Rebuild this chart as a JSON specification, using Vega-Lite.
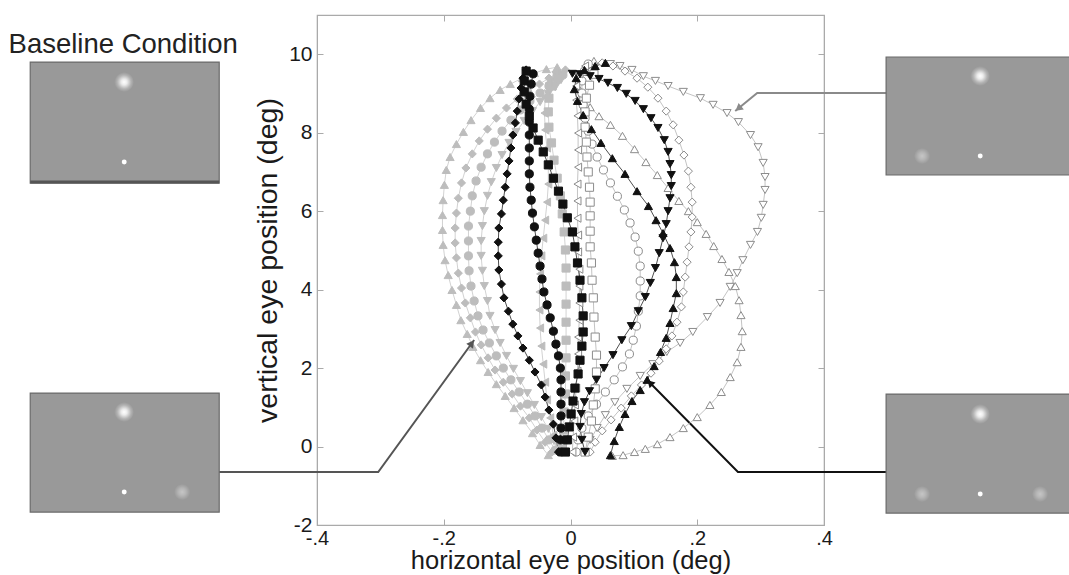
{
"$schema":"https://vega.github.io/schema/vega-lite/v6.json",
"width":507,"height":510,
"autosize":{"type":"none"},
"padding":{"left":317,"top":15,"right":245,"bottom":50},
"background":"white",
"config":{"font":"Liberation Sans","view":{"stroke":"#aaaaaa","strokeWidth":1.2}},
"resolve":{"axis":{"x":"independent","y":"independent"}},
"datasets":{
"conn":[{"g":"c1","x":0.52,"y":9.011},{"g":"c1","x":0.2946,"y":9.011},{"g":"c1","x":0.2599,"y":8.552},
{"g":"c2","x":0.52,"y":-0.65},{"g":"c2","x":0.2642,"y":-0.65},{"g":"c2","x":0.121,"y":1.695},
{"g":"c3","x":-0.5559,"y":-0.65},{"g":"c3","x":-0.3034,"y":-0.65},{"g":"c3","x":-0.152,"y":2.715}],
"insets":[{"x0":-0.8525,"x1":-0.5543,"y0":9.80,"y1":6.717},{"x0":-0.8525,"x1":-0.5543,"y0":1.364,"y1":-1.670},{"x0":0.498,"x1":0.80,"y0":9.929,"y1":6.921},{"x0":0.498,"x1":0.80,"y0":1.338,"y1":-1.695}],
"stim":[{"k":"target","x":-0.7042,"y":9.291},{"k":"fixation","x":-0.7042,"y":7.252},
{"k":"target","x":-0.7042,"y":0.879},{"k":"fixation","x":-0.7042,"y":-1.160},{"k":"distractor","x":-0.6127,"y":-1.160},
{"k":"target","x":0.6465,"y":9.444},{"k":"fixation","x":0.6465,"y":7.405},{"k":"distractor","x":0.5548,"y":7.405},
{"k":"target","x":0.6465,"y":0.828},{"k":"fixation","x":0.6465,"y":-1.211},{"k":"distractor","x":0.5548,"y":-1.211},{"k":"distractor","x":0.741,"y":-1.211}],
"traj":[
{"c":"G","s":"tu","x":-0.035,"y":-0.22},{"c":"G","s":"tu","x":-0.048,"y":0.04},{"c":"G","s":"tu","x":-0.060,"y":0.34},{"c":"G","s":"tu","x":-0.075,"y":0.67},{"c":"G","s":"tu","x":-0.089,"y":0.98},{"c":"G","s":"tu","x":-0.103,"y":1.29},{"c":"G","s":"tu","x":-0.117,"y":1.59},{"c":"G","s":"tu","x":-0.130,"y":1.90},{"c":"G","s":"tu","x":-0.142,"y":2.20},{"c":"G","s":"tu","x":-0.154,"y":2.54},{"c":"G","s":"tu","x":-0.163,"y":2.87},{"c":"G","s":"tu","x":-0.173,"y":3.22},{"c":"G","s":"tu","x":-0.180,"y":3.61},{"c":"G","s":"tu","x":-0.187,"y":3.99},{"c":"G","s":"tu","x":-0.193,"y":4.37},{"c":"G","s":"tu","x":-0.198,"y":4.75},{"c":"G","s":"tu","x":-0.201,"y":5.14},{"c":"G","s":"tu","x":-0.202,"y":5.52},{"c":"G","s":"tu","x":-0.202,"y":5.90},{"c":"G","s":"tu","x":-0.201,"y":6.28},{"c":"G","s":"tu","x":-0.199,"y":6.67},{"c":"G","s":"tu","x":-0.196,"y":7.05},{"c":"G","s":"tu","x":-0.190,"y":7.38},{"c":"G","s":"tu","x":-0.180,"y":7.71},{"c":"G","s":"tu","x":-0.169,"y":8.02},{"c":"G","s":"tu","x":-0.157,"y":8.32},{"c":"G","s":"tu","x":-0.142,"y":8.63},{"c":"G","s":"tu","x":-0.127,"y":8.88},{"c":"G","s":"tu","x":-0.111,"y":9.09},{"c":"G","s":"tu","x":-0.095,"y":9.24},{"c":"G","s":"tu","x":-0.076,"y":9.39},{"c":"G","s":"tu","x":-0.057,"y":9.52},{"c":"G","s":"tu","x":-0.038,"y":9.62},{"c":"G","s":"tu","x":-0.021,"y":9.67},
{"c":"G","s":"di","x":-0.029,"y":-0.14},{"c":"G","s":"di","x":-0.040,"y":0.11},{"c":"G","s":"di","x":-0.053,"y":0.42},{"c":"G","s":"di","x":-0.065,"y":0.73},{"c":"G","s":"di","x":-0.079,"y":1.03},{"c":"G","s":"di","x":-0.092,"y":1.34},{"c":"G","s":"di","x":-0.106,"y":1.64},{"c":"G","s":"di","x":-0.119,"y":1.95},{"c":"G","s":"di","x":-0.130,"y":2.26},{"c":"G","s":"di","x":-0.141,"y":2.59},{"c":"G","s":"di","x":-0.150,"y":2.92},{"c":"G","s":"di","x":-0.158,"y":3.28},{"c":"G","s":"di","x":-0.166,"y":3.66},{"c":"G","s":"di","x":-0.172,"y":4.04},{"c":"G","s":"di","x":-0.177,"y":4.42},{"c":"G","s":"di","x":-0.180,"y":4.81},{"c":"G","s":"di","x":-0.182,"y":5.19},{"c":"G","s":"di","x":-0.182,"y":5.57},{"c":"G","s":"di","x":-0.180,"y":5.95},{"c":"G","s":"di","x":-0.177,"y":6.33},{"c":"G","s":"di","x":-0.172,"y":6.72},{"c":"G","s":"di","x":-0.165,"y":7.10},{"c":"G","s":"di","x":-0.155,"y":7.46},{"c":"G","s":"di","x":-0.144,"y":7.79},{"c":"G","s":"di","x":-0.131,"y":8.09},{"c":"G","s":"di","x":-0.117,"y":8.37},{"c":"G","s":"di","x":-0.101,"y":8.63},{"c":"G","s":"di","x":-0.084,"y":8.86},{"c":"G","s":"di","x":-0.067,"y":9.06},{"c":"G","s":"di","x":-0.049,"y":9.24},{"c":"G","s":"di","x":-0.034,"y":9.39},{"c":"G","s":"di","x":-0.019,"y":9.52},{"c":"G","s":"di","x":-0.008,"y":9.60},
{"c":"G","s":"ci","x":-0.024,"y":-0.09},{"c":"G","s":"ci","x":-0.034,"y":0.17},{"c":"G","s":"ci","x":-0.045,"y":0.47},{"c":"G","s":"ci","x":-0.056,"y":0.78},{"c":"G","s":"ci","x":-0.068,"y":1.08},{"c":"G","s":"ci","x":-0.081,"y":1.39},{"c":"G","s":"ci","x":-0.094,"y":1.70},{"c":"G","s":"ci","x":-0.106,"y":2.00},{"c":"G","s":"ci","x":-0.117,"y":2.31},{"c":"G","s":"ci","x":-0.128,"y":2.64},{"c":"G","s":"ci","x":-0.138,"y":2.97},{"c":"G","s":"ci","x":-0.146,"y":3.33},{"c":"G","s":"ci","x":-0.152,"y":3.71},{"c":"G","s":"ci","x":-0.157,"y":4.09},{"c":"G","s":"ci","x":-0.160,"y":4.48},{"c":"G","s":"ci","x":-0.161,"y":4.86},{"c":"G","s":"ci","x":-0.161,"y":5.24},{"c":"G","s":"ci","x":-0.161,"y":5.62},{"c":"G","s":"ci","x":-0.158,"y":6.00},{"c":"G","s":"ci","x":-0.155,"y":6.39},{"c":"G","s":"ci","x":-0.149,"y":6.77},{"c":"G","s":"ci","x":-0.141,"y":7.12},{"c":"G","s":"ci","x":-0.131,"y":7.46},{"c":"G","s":"ci","x":-0.120,"y":7.76},{"c":"G","s":"ci","x":-0.108,"y":8.04},{"c":"G","s":"ci","x":-0.094,"y":8.32},{"c":"G","s":"ci","x":-0.079,"y":8.58},{"c":"G","s":"ci","x":-0.064,"y":8.81},{"c":"G","s":"ci","x":-0.048,"y":9.01},{"c":"G","s":"ci","x":-0.034,"y":9.19},{"c":"G","s":"ci","x":-0.021,"y":9.34},{"c":"G","s":"ci","x":-0.012,"y":9.47},
{"c":"G","s":"td","x":-0.016,"y":-0.14},{"c":"G","s":"td","x":-0.026,"y":0.14},{"c":"G","s":"td","x":-0.035,"y":0.45},{"c":"G","s":"td","x":-0.046,"y":0.75},{"c":"G","s":"td","x":-0.057,"y":1.06},{"c":"G","s":"td","x":-0.068,"y":1.36},{"c":"G","s":"td","x":-0.079,"y":1.67},{"c":"G","s":"td","x":-0.090,"y":1.98},{"c":"G","s":"td","x":-0.101,"y":2.31},{"c":"G","s":"td","x":-0.111,"y":2.64},{"c":"G","s":"td","x":-0.119,"y":2.97},{"c":"G","s":"td","x":-0.127,"y":3.33},{"c":"G","s":"td","x":-0.131,"y":3.71},{"c":"G","s":"td","x":-0.136,"y":4.09},{"c":"G","s":"td","x":-0.139,"y":4.48},{"c":"G","s":"td","x":-0.141,"y":4.86},{"c":"G","s":"td","x":-0.141,"y":5.24},{"c":"G","s":"td","x":-0.139,"y":5.62},{"c":"G","s":"td","x":-0.136,"y":6.00},{"c":"G","s":"td","x":-0.131,"y":6.39},{"c":"G","s":"td","x":-0.125,"y":6.74},{"c":"G","s":"td","x":-0.117,"y":7.10},{"c":"G","s":"td","x":-0.108,"y":7.43},{"c":"G","s":"td","x":-0.097,"y":7.74},{"c":"G","s":"td","x":-0.086,"y":8.02},{"c":"G","s":"td","x":-0.073,"y":8.30},{"c":"G","s":"td","x":-0.060,"y":8.55},{"c":"G","s":"td","x":-0.048,"y":8.78},{"c":"G","s":"td","x":-0.035,"y":8.99},{"c":"G","s":"td","x":-0.024,"y":9.16},{"c":"G","s":"td","x":-0.015,"y":9.34},
{"c":"G","s":"sq","x":-0.013,"y":-0.04},{"c":"G","s":"sq","x":-0.011,"y":0.42},{"c":"G","s":"sq","x":-0.010,"y":0.88},{"c":"G","s":"sq","x":-0.008,"y":1.34},{"c":"G","s":"sq","x":-0.008,"y":1.80},{"c":"G","s":"sq","x":-0.007,"y":2.26},{"c":"G","s":"sq","x":-0.007,"y":2.71},{"c":"G","s":"sq","x":-0.007,"y":3.17},{"c":"G","s":"sq","x":-0.007,"y":3.63},{"c":"G","s":"sq","x":-0.007,"y":4.09},{"c":"G","s":"sq","x":-0.007,"y":4.55},{"c":"G","s":"sq","x":-0.008,"y":5.01},{"c":"G","s":"sq","x":-0.010,"y":5.47},{"c":"G","s":"sq","x":-0.013,"y":5.93},{"c":"G","s":"sq","x":-0.016,"y":6.39},{"c":"G","s":"sq","x":-0.021,"y":6.84},{"c":"G","s":"sq","x":-0.026,"y":7.30},{"c":"G","s":"sq","x":-0.030,"y":7.74},{"c":"G","s":"sq","x":-0.034,"y":8.14},{"c":"G","s":"sq","x":-0.035,"y":8.53},{"c":"G","s":"sq","x":-0.034,"y":8.88},{"c":"G","s":"sq","x":-0.029,"y":9.19},{"c":"G","s":"sq","x":-0.021,"y":9.44},
{"c":"G","s":"tl","x":-0.021,"y":-0.14},{"c":"G","s":"tl","x":-0.027,"y":0.29},{"c":"G","s":"tl","x":-0.032,"y":0.73},{"c":"G","s":"tl","x":-0.037,"y":1.19},{"c":"G","s":"tl","x":-0.040,"y":1.64},{"c":"G","s":"tl","x":-0.043,"y":2.10},{"c":"G","s":"tl","x":-0.046,"y":2.56},{"c":"G","s":"tl","x":-0.048,"y":3.02},{"c":"G","s":"tl","x":-0.049,"y":3.48},{"c":"G","s":"tl","x":-0.049,"y":3.94},{"c":"G","s":"tl","x":-0.048,"y":4.40},{"c":"G","s":"tl","x":-0.046,"y":4.86},{"c":"G","s":"tl","x":-0.043,"y":5.31},{"c":"G","s":"tl","x":-0.040,"y":5.77},{"c":"G","s":"tl","x":-0.037,"y":6.23},{"c":"G","s":"tl","x":-0.035,"y":6.69},{"c":"G","s":"tl","x":-0.035,"y":7.15},{"c":"G","s":"tl","x":-0.037,"y":7.61},{"c":"G","s":"tl","x":-0.040,"y":8.07},{"c":"G","s":"tl","x":-0.041,"y":8.50},{"c":"G","s":"tl","x":-0.040,"y":8.91},{"c":"G","s":"tl","x":-0.034,"y":9.27},{"c":"G","s":"tl","x":-0.024,"y":9.55},
{"c":"O","s":"td","x":0.023,"y":-0.14},{"c":"O","s":"td","x":0.031,"y":0.17},{"c":"O","s":"td","x":0.042,"y":0.47},{"c":"O","s":"td","x":0.055,"y":0.80},{"c":"O","s":"td","x":0.070,"y":1.13},{"c":"O","s":"td","x":0.089,"y":1.47},{"c":"O","s":"td","x":0.110,"y":1.80},{"c":"O","s":"td","x":0.130,"y":2.10},{"c":"O","s":"td","x":0.152,"y":2.41},{"c":"O","s":"td","x":0.173,"y":2.64},{"c":"O","s":"td","x":0.193,"y":2.92},{"c":"O","s":"td","x":0.216,"y":3.30},{"c":"O","s":"td","x":0.236,"y":3.66},{"c":"O","s":"td","x":0.252,"y":4.07},{"c":"O","s":"td","x":0.263,"y":4.42},{"c":"O","s":"td","x":0.272,"y":4.75},{"c":"O","s":"td","x":0.284,"y":5.14},{"c":"O","s":"td","x":0.295,"y":5.47},{"c":"O","s":"td","x":0.301,"y":5.83},{"c":"O","s":"td","x":0.304,"y":6.16},{"c":"O","s":"td","x":0.307,"y":6.54},{"c":"O","s":"td","x":0.307,"y":6.87},{"c":"O","s":"td","x":0.304,"y":7.23},{"c":"O","s":"td","x":0.296,"y":7.63},{"c":"O","s":"td","x":0.284,"y":7.94},{"c":"O","s":"td","x":0.265,"y":8.27},{"c":"O","s":"td","x":0.247,"y":8.50},{"c":"O","s":"td","x":0.225,"y":8.71},{"c":"O","s":"td","x":0.205,"y":8.88},{"c":"O","s":"td","x":0.178,"y":9.04},{"c":"O","s":"td","x":0.154,"y":9.19},{"c":"O","s":"td","x":0.134,"y":9.32},{"c":"O","s":"td","x":0.115,"y":9.44},{"c":"O","s":"td","x":0.097,"y":9.60},{"c":"O","s":"td","x":0.078,"y":9.70},{"c":"O","s":"td","x":0.063,"y":9.75},
{"c":"O","s":"tu","x":0.066,"y":-0.24},{"c":"O","s":"tu","x":0.083,"y":-0.22},{"c":"O","s":"tu","x":0.101,"y":-0.14},{"c":"O","s":"tu","x":0.118,"y":-0.06},{"c":"O","s":"tu","x":0.137,"y":0.06},{"c":"O","s":"tu","x":0.157,"y":0.24},{"c":"O","s":"tu","x":0.178,"y":0.47},{"c":"O","s":"tu","x":0.200,"y":0.75},{"c":"O","s":"tu","x":0.220,"y":1.06},{"c":"O","s":"tu","x":0.238,"y":1.39},{"c":"O","s":"tu","x":0.252,"y":1.77},{"c":"O","s":"tu","x":0.263,"y":2.15},{"c":"O","s":"tu","x":0.269,"y":2.54},{"c":"O","s":"tu","x":0.271,"y":2.94},{"c":"O","s":"tu","x":0.269,"y":3.35},{"c":"O","s":"tu","x":0.266,"y":3.73},{"c":"O","s":"tu","x":0.260,"y":4.09},{"c":"O","s":"tu","x":0.250,"y":4.45},{"c":"O","s":"tu","x":0.239,"y":4.78},{"c":"O","s":"tu","x":0.226,"y":5.11},{"c":"O","s":"tu","x":0.214,"y":5.42},{"c":"O","s":"tu","x":0.200,"y":5.72},{"c":"O","s":"tu","x":0.186,"y":6.00},{"c":"O","s":"tu","x":0.171,"y":6.26},{"c":"O","s":"tu","x":0.154,"y":6.59},{"c":"O","s":"tu","x":0.137,"y":6.92},{"c":"O","s":"tu","x":0.119,"y":7.25},{"c":"O","s":"tu","x":0.101,"y":7.58},{"c":"O","s":"tu","x":0.082,"y":7.92},{"c":"O","s":"tu","x":0.063,"y":8.20},{"c":"O","s":"tu","x":0.045,"y":8.42},{"c":"O","s":"tu","x":0.031,"y":8.65},{"c":"O","s":"tu","x":0.018,"y":8.91},{"c":"O","s":"tu","x":0.011,"y":9.19},{"c":"O","s":"tu","x":0.012,"y":9.47},{"c":"O","s":"tu","x":0.022,"y":9.67},{"c":"O","s":"tu","x":0.037,"y":9.83},
{"c":"O","s":"ci","x":0.009,"y":-0.14},{"c":"O","s":"ci","x":0.012,"y":0.17},{"c":"O","s":"ci","x":0.018,"y":0.47},{"c":"O","s":"ci","x":0.028,"y":0.78},{"c":"O","s":"ci","x":0.041,"y":1.08},{"c":"O","s":"ci","x":0.055,"y":1.39},{"c":"O","s":"ci","x":0.069,"y":1.70},{"c":"O","s":"ci","x":0.082,"y":2.03},{"c":"O","s":"ci","x":0.093,"y":2.36},{"c":"O","s":"ci","x":0.099,"y":2.71},{"c":"O","s":"ci","x":0.104,"y":3.07},{"c":"O","s":"ci","x":0.107,"y":3.45},{"c":"O","s":"ci","x":0.110,"y":3.84},{"c":"O","s":"ci","x":0.110,"y":4.22},{"c":"O","s":"ci","x":0.110,"y":4.60},{"c":"O","s":"ci","x":0.107,"y":4.98},{"c":"O","s":"ci","x":0.102,"y":5.34},{"c":"O","s":"ci","x":0.094,"y":5.70},{"c":"O","s":"ci","x":0.085,"y":6.03},{"c":"O","s":"ci","x":0.074,"y":6.38},{"c":"O","s":"ci","x":0.063,"y":6.72},{"c":"O","s":"ci","x":0.052,"y":7.05},{"c":"O","s":"ci","x":0.042,"y":7.38},{"c":"O","s":"ci","x":0.034,"y":7.71},{"c":"O","s":"ci","x":0.028,"y":8.04},{"c":"O","s":"ci","x":0.023,"y":8.37},{"c":"O","s":"ci","x":0.020,"y":8.71},{"c":"O","s":"ci","x":0.018,"y":9.01},{"c":"O","s":"ci","x":0.018,"y":9.32},{"c":"O","s":"ci","x":0.022,"y":9.57},{"c":"O","s":"ci","x":0.028,"y":9.75},
{"c":"O","s":"di","x":0.031,"y":-0.14},{"c":"O","s":"di","x":0.039,"y":0.11},{"c":"O","s":"di","x":0.050,"y":0.40},{"c":"O","s":"di","x":0.064,"y":0.68},{"c":"O","s":"di","x":0.080,"y":0.98},{"c":"O","s":"di","x":0.096,"y":1.29},{"c":"O","s":"di","x":0.112,"y":1.57},{"c":"O","s":"di","x":0.127,"y":1.87},{"c":"O","s":"di","x":0.140,"y":2.18},{"c":"O","s":"di","x":0.151,"y":2.49},{"c":"O","s":"di","x":0.160,"y":2.82},{"c":"O","s":"di","x":0.168,"y":3.17},{"c":"O","s":"di","x":0.175,"y":3.56},{"c":"O","s":"di","x":0.178,"y":3.94},{"c":"O","s":"di","x":0.181,"y":4.32},{"c":"O","s":"di","x":0.184,"y":4.70},{"c":"O","s":"di","x":0.187,"y":5.09},{"c":"O","s":"di","x":0.190,"y":5.47},{"c":"O","s":"di","x":0.192,"y":5.85},{"c":"O","s":"di","x":0.192,"y":6.23},{"c":"O","s":"di","x":0.190,"y":6.61},{"c":"O","s":"di","x":0.186,"y":7.02},{"c":"O","s":"di","x":0.179,"y":7.43},{"c":"O","s":"di","x":0.171,"y":7.81},{"c":"O","s":"di","x":0.162,"y":8.20},{"c":"O","s":"di","x":0.151,"y":8.55},{"c":"O","s":"di","x":0.138,"y":8.88},{"c":"O","s":"di","x":0.122,"y":9.16},{"c":"O","s":"di","x":0.105,"y":9.39},{"c":"O","s":"di","x":0.086,"y":9.57},{"c":"O","s":"di","x":0.067,"y":9.70},{"c":"O","s":"di","x":0.050,"y":9.78},
{"c":"O","s":"sq","x":0.023,"y":-0.14},{"c":"O","s":"sq","x":0.028,"y":0.24},{"c":"O","s":"sq","x":0.033,"y":0.65},{"c":"O","s":"sq","x":0.036,"y":1.06},{"c":"O","s":"sq","x":0.039,"y":1.47},{"c":"O","s":"sq","x":0.041,"y":1.90},{"c":"O","s":"sq","x":0.041,"y":2.33},{"c":"O","s":"sq","x":0.039,"y":2.79},{"c":"O","s":"sq","x":0.037,"y":3.30},{"c":"O","s":"sq","x":0.036,"y":3.79},{"c":"O","s":"sq","x":0.034,"y":4.24},{"c":"O","s":"sq","x":0.033,"y":4.68},{"c":"O","s":"sq","x":0.031,"y":5.09},{"c":"O","s":"sq","x":0.031,"y":5.49},{"c":"O","s":"sq","x":0.031,"y":5.88},{"c":"O","s":"sq","x":0.031,"y":6.23},{"c":"O","s":"sq","x":0.030,"y":6.61},{"c":"O","s":"sq","x":0.028,"y":7.00},{"c":"O","s":"sq","x":0.026,"y":7.38},{"c":"O","s":"sq","x":0.025,"y":7.76},{"c":"O","s":"sq","x":0.023,"y":8.14},{"c":"O","s":"sq","x":0.023,"y":8.53},{"c":"O","s":"sq","x":0.025,"y":8.88},{"c":"O","s":"sq","x":0.030,"y":9.21},{"c":"O","s":"sq","x":0.037,"y":9.49},
{"c":"O","s":"tl","x":0.003,"y":-0.14},{"c":"O","s":"tl","x":0.004,"y":0.24},{"c":"O","s":"tl","x":0.006,"y":0.65},{"c":"O","s":"tl","x":0.007,"y":1.06},{"c":"O","s":"tl","x":0.009,"y":1.49},{"c":"O","s":"tl","x":0.011,"y":1.92},{"c":"O","s":"tl","x":0.012,"y":2.36},{"c":"O","s":"tl","x":0.012,"y":2.79},{"c":"O","s":"tl","x":0.014,"y":3.22},{"c":"O","s":"tl","x":0.014,"y":3.66},{"c":"O","s":"tl","x":0.014,"y":4.09},{"c":"O","s":"tl","x":0.014,"y":4.52},{"c":"O","s":"tl","x":0.012,"y":4.96},{"c":"O","s":"tl","x":0.012,"y":5.39},{"c":"O","s":"tl","x":0.011,"y":5.82},{"c":"O","s":"tl","x":0.011,"y":6.26},{"c":"O","s":"tl","x":0.011,"y":6.69},{"c":"O","s":"tl","x":0.012,"y":7.12},{"c":"O","s":"tl","x":0.012,"y":7.56},{"c":"O","s":"tl","x":0.012,"y":7.99},{"c":"O","s":"tl","x":0.011,"y":8.43},{"c":"O","s":"tl","x":0.009,"y":8.83},{"c":"O","s":"tl","x":0.009,"y":9.19},{"c":"O","s":"tl","x":0.014,"y":9.50},{"c":"O","s":"tl","x":0.023,"y":9.70},
{"c":"B","s":"di","x":-0.019,"y":-0.14},{"c":"B","s":"di","x":-0.023,"y":0.22},{"c":"B","s":"di","x":-0.027,"y":0.57},{"c":"B","s":"di","x":-0.034,"y":0.93},{"c":"B","s":"di","x":-0.040,"y":1.26},{"c":"B","s":"di","x":-0.046,"y":1.57},{"c":"B","s":"di","x":-0.056,"y":1.90},{"c":"B","s":"di","x":-0.065,"y":2.20},{"c":"B","s":"di","x":-0.075,"y":2.51},{"c":"B","s":"di","x":-0.083,"y":2.82},{"c":"B","s":"di","x":-0.091,"y":3.12},{"c":"B","s":"di","x":-0.098,"y":3.45},{"c":"B","s":"di","x":-0.105,"y":3.79},{"c":"B","s":"di","x":-0.109,"y":4.14},{"c":"B","s":"di","x":-0.113,"y":4.50},{"c":"B","s":"di","x":-0.114,"y":4.86},{"c":"B","s":"di","x":-0.114,"y":5.21},{"c":"B","s":"di","x":-0.113,"y":5.57},{"c":"B","s":"di","x":-0.109,"y":5.93},{"c":"B","s":"di","x":-0.106,"y":6.28},{"c":"B","s":"di","x":-0.103,"y":6.61},{"c":"B","s":"di","x":-0.100,"y":6.95},{"c":"B","s":"di","x":-0.097,"y":7.28},{"c":"B","s":"di","x":-0.094,"y":7.61},{"c":"B","s":"di","x":-0.091,"y":7.94},{"c":"B","s":"di","x":-0.087,"y":8.25},{"c":"B","s":"di","x":-0.084,"y":8.55},{"c":"B","s":"di","x":-0.081,"y":8.86},{"c":"B","s":"di","x":-0.078,"y":9.14},{"c":"B","s":"di","x":-0.075,"y":9.39},{"c":"B","s":"di","x":-0.070,"y":9.60},
{"c":"B","s":"ci","x":-0.016,"y":-0.14},{"c":"B","s":"ci","x":-0.016,"y":0.17},{"c":"B","s":"ci","x":-0.015,"y":0.47},{"c":"B","s":"ci","x":-0.015,"y":0.78},{"c":"B","s":"ci","x":-0.015,"y":1.08},{"c":"B","s":"ci","x":-0.015,"y":1.39},{"c":"B","s":"ci","x":-0.015,"y":1.70},{"c":"B","s":"ci","x":-0.016,"y":2.00},{"c":"B","s":"ci","x":-0.019,"y":2.31},{"c":"B","s":"ci","x":-0.023,"y":2.61},{"c":"B","s":"ci","x":-0.027,"y":2.94},{"c":"B","s":"ci","x":-0.032,"y":3.28},{"c":"B","s":"ci","x":-0.037,"y":3.61},{"c":"B","s":"ci","x":-0.042,"y":3.94},{"c":"B","s":"ci","x":-0.045,"y":4.27},{"c":"B","s":"ci","x":-0.048,"y":4.60},{"c":"B","s":"ci","x":-0.051,"y":4.93},{"c":"B","s":"ci","x":-0.054,"y":5.26},{"c":"B","s":"ci","x":-0.057,"y":5.60},{"c":"B","s":"ci","x":-0.060,"y":5.95},{"c":"B","s":"ci","x":-0.062,"y":6.28},{"c":"B","s":"ci","x":-0.064,"y":6.61},{"c":"B","s":"ci","x":-0.065,"y":6.95},{"c":"B","s":"ci","x":-0.065,"y":7.28},{"c":"B","s":"ci","x":-0.065,"y":7.61},{"c":"B","s":"ci","x":-0.065,"y":7.94},{"c":"B","s":"ci","x":-0.065,"y":8.27},{"c":"B","s":"ci","x":-0.065,"y":8.60},{"c":"B","s":"ci","x":-0.064,"y":8.93},{"c":"B","s":"ci","x":-0.062,"y":9.24},{"c":"B","s":"ci","x":-0.059,"y":9.50},
{"c":"B","s":"sq","x":-0.008,"y":-0.14},{"c":"B","s":"sq","x":-0.005,"y":0.17},{"c":"B","s":"sq","x":-0.002,"y":0.50},{"c":"B","s":"sq","x":0.001,"y":0.83},{"c":"B","s":"sq","x":0.004,"y":1.16},{"c":"B","s":"sq","x":0.007,"y":1.49},{"c":"B","s":"sq","x":0.012,"y":1.85},{"c":"B","s":"sq","x":0.015,"y":2.20},{"c":"B","s":"sq","x":0.018,"y":2.56},{"c":"B","s":"sq","x":0.020,"y":2.92},{"c":"B","s":"sq","x":0.020,"y":3.33},{"c":"B","s":"sq","x":0.018,"y":3.79},{"c":"B","s":"sq","x":0.015,"y":4.24},{"c":"B","s":"sq","x":0.011,"y":4.68},{"c":"B","s":"sq","x":0.007,"y":5.09},{"c":"B","s":"sq","x":0.003,"y":5.47},{"c":"B","s":"sq","x":-0.005,"y":5.83},{"c":"B","s":"sq","x":-0.012,"y":6.18},{"c":"B","s":"sq","x":-0.019,"y":6.51},{"c":"B","s":"sq","x":-0.027,"y":6.84},{"c":"B","s":"sq","x":-0.035,"y":7.18},{"c":"B","s":"sq","x":-0.043,"y":7.51},{"c":"B","s":"sq","x":-0.051,"y":7.81},{"c":"B","s":"sq","x":-0.059,"y":8.12},{"c":"B","s":"sq","x":-0.065,"y":8.42},{"c":"B","s":"sq","x":-0.070,"y":8.73},{"c":"B","s":"sq","x":-0.073,"y":9.04},{"c":"B","s":"sq","x":-0.073,"y":9.32},{"c":"B","s":"sq","x":-0.070,"y":9.57},
{"c":"B","s":"td","x":0.023,"y":-0.14},{"c":"B","s":"td","x":0.018,"y":0.17},{"c":"B","s":"td","x":0.015,"y":0.50},{"c":"B","s":"td","x":0.017,"y":0.83},{"c":"B","s":"td","x":0.022,"y":1.13},{"c":"B","s":"td","x":0.030,"y":1.41},{"c":"B","s":"td","x":0.041,"y":1.70},{"c":"B","s":"td","x":0.053,"y":2.00},{"c":"B","s":"td","x":0.067,"y":2.33},{"c":"B","s":"td","x":0.081,"y":2.71},{"c":"B","s":"td","x":0.096,"y":3.07},{"c":"B","s":"td","x":0.107,"y":3.45},{"c":"B","s":"td","x":0.118,"y":3.81},{"c":"B","s":"td","x":0.126,"y":4.17},{"c":"B","s":"td","x":0.134,"y":4.55},{"c":"B","s":"td","x":0.140,"y":4.93},{"c":"B","s":"td","x":0.146,"y":5.31},{"c":"B","s":"td","x":0.151,"y":5.67},{"c":"B","s":"td","x":0.154,"y":6.00},{"c":"B","s":"td","x":0.157,"y":6.33},{"c":"B","s":"td","x":0.159,"y":6.64},{"c":"B","s":"td","x":0.159,"y":6.92},{"c":"B","s":"td","x":0.157,"y":7.20},{"c":"B","s":"td","x":0.154,"y":7.51},{"c":"B","s":"td","x":0.148,"y":7.81},{"c":"B","s":"td","x":0.138,"y":8.12},{"c":"B","s":"td","x":0.127,"y":8.37},{"c":"B","s":"td","x":0.115,"y":8.60},{"c":"B","s":"td","x":0.102,"y":8.81},{"c":"B","s":"td","x":0.088,"y":8.99},{"c":"B","s":"td","x":0.074,"y":9.14},{"c":"B","s":"td","x":0.059,"y":9.27},{"c":"B","s":"td","x":0.045,"y":9.37},{"c":"B","s":"td","x":0.031,"y":9.44},{"c":"B","s":"td","x":0.015,"y":9.49},{"c":"B","s":"td","x":0.003,"y":9.50},
{"c":"B","s":"tu","x":0.063,"y":-0.22},{"c":"B","s":"tu","x":0.069,"y":0.14},{"c":"B","s":"tu","x":0.077,"y":0.50},{"c":"B","s":"tu","x":0.086,"y":0.83},{"c":"B","s":"tu","x":0.097,"y":1.16},{"c":"B","s":"tu","x":0.110,"y":1.44},{"c":"B","s":"tu","x":0.121,"y":1.70},{"c":"B","s":"tu","x":0.132,"y":2.05},{"c":"B","s":"tu","x":0.142,"y":2.41},{"c":"B","s":"tu","x":0.151,"y":2.77},{"c":"B","s":"tu","x":0.157,"y":3.15},{"c":"B","s":"tu","x":0.162,"y":3.53},{"c":"B","s":"tu","x":0.167,"y":3.91},{"c":"B","s":"tu","x":0.167,"y":4.32},{"c":"B","s":"tu","x":0.164,"y":4.70},{"c":"B","s":"tu","x":0.157,"y":5.06},{"c":"B","s":"tu","x":0.146,"y":5.44},{"c":"B","s":"tu","x":0.135,"y":5.77},{"c":"B","s":"tu","x":0.123,"y":6.13},{"c":"B","s":"tu","x":0.105,"y":6.51},{"c":"B","s":"tu","x":0.086,"y":6.95},{"c":"B","s":"tu","x":0.066,"y":7.35},{"c":"B","s":"tu","x":0.048,"y":7.74},{"c":"B","s":"tu","x":0.033,"y":8.09},{"c":"B","s":"tu","x":0.020,"y":8.45},{"c":"B","s":"tu","x":0.011,"y":8.81},{"c":"B","s":"tu","x":0.006,"y":9.11},{"c":"B","s":"tu","x":0.009,"y":9.39},{"c":"B","s":"tu","x":0.022,"y":9.60},{"c":"B","s":"tu","x":0.039,"y":9.70},{"c":"B","s":"tu","x":0.055,"y":9.78}
]
},
"layer":[
{"data":{"name":"conn"},"mark":{"type":"line","strokeWidth":2},
 "encoding":{"x":{"field":"x","type":"quantitative","scale":{"domain":[-0.4,0.4],"nice":false,"zero":false},"axis":null},
 "y":{"field":"y","type":"quantitative","scale":{"domain":[-2,11],"nice":false,"zero":false},"axis":null},
 "color":{"field":"g","type":"nominal","scale":{"domain":["G","O","B","c1","c2","c3"],"range":["#c6c6c6","#b4b4b4","#222222","#8a8a8a","#111111","#555555"]},"legend":null}}},
{"data":{"name":"insets"},"mark":{"type":"rect","fill":"#999999","stroke":"#6a6a6a","strokeWidth":1.2},
 "encoding":{"x":{"field":"x0","type":"quantitative","axis":null},"x2":{"field":"x1"},"y":{"field":"y0","type":"quantitative","axis":null},"y2":{"field":"y1"}}},
{"data":{"values":[{"x0":-0.8525,"x1":-0.5543,"y":6.745}]},"mark":{"type":"rule","strokeWidth":3,"color":"#555555"},
 "encoding":{"x":{"field":"x0","type":"quantitative","axis":null},"x2":{"field":"x1"},"y":{"field":"y","type":"quantitative","axis":null}}},
{"data":{"name":"stim"},"transform":[{"filter":"datum.k == 'target'"}],
 "mark":{"type":"point","shape":"circle","filled":true,"size":380,"opacity":1,"strokeWidth":0,
  "fill":{"gradient":"radial","stops":[{"offset":0,"color":"#ffffff"},{"offset":0.3,"color":"#ececec"},{"offset":0.7,"color":"#b4b4b4"},{"offset":1,"color":"#999999"}]}},
 "encoding":{"x":{"field":"x","type":"quantitative","axis":null},"y":{"field":"y","type":"quantitative","axis":null}}},
{"data":{"name":"stim"},"transform":[{"filter":"datum.k == 'distractor'"}],
 "mark":{"type":"point","shape":"circle","filled":true,"size":260,"opacity":1,"strokeWidth":0,
  "fill":{"gradient":"radial","stops":[{"offset":0,"color":"#c6c6c6"},{"offset":0.45,"color":"#b6b6b6"},{"offset":1,"color":"#999999"}]}},
 "encoding":{"x":{"field":"x","type":"quantitative","axis":null},"y":{"field":"y","type":"quantitative","axis":null}}},
{"data":{"name":"stim"},"transform":[{"filter":"datum.k == 'fixation'"}],
 "mark":{"type":"point","shape":"circle","filled":true,"size":24,"opacity":1,"color":"#ffffff"},
 "encoding":{"x":{"field":"x","type":"quantitative","axis":null},"y":{"field":"y","type":"quantitative","axis":null}}},
{"data":{"values":[{"t":"Baseline Condition","x":-0.7058,"y":10.03}]},
 "mark":{"type":"text","fontSize":27.5,"align":"center","baseline":"alphabetic","color":"#222222"},
 "encoding":{"x":{"field":"x","type":"quantitative","axis":null},"y":{"field":"y","type":"quantitative","axis":null},"text":{"field":"t"}}},
{"data":{"name":"traj"},"mark":{"type":"line","strokeWidth":0.8},
 "encoding":{"x":{"field":"x","type":"quantitative","axis":{"orient":"top","values":[-0.4,-0.2,0,0.2,0.4],"labels":false,"title":null,"tickSize":-6,"grid":false,"domainColor":"#aaaaaa","tickColor":"#aaaaaa"}},
 "y":{"field":"y","type":"quantitative","axis":{"orient":"right","values":[-2,0,2,4,6,8,10],"labels":false,"title":null,"tickSize":-6,"grid":false,"domainColor":"#aaaaaa","tickColor":"#aaaaaa"}},
 "color":{"field":"c","type":"nominal","legend":null},"detail":{"field":"s"},"order":{"field":"y","type":"quantitative"}}},
{"data":{"name":"traj"},"mark":{"type":"point","filled":true,"size":66,"strokeWidth":1,"opacity":1},
 "encoding":{"x":{"field":"x","type":"quantitative","axis":{"orient":"bottom","values":[-0.4,-0.2,0,0.2,0.4],"labelExpr":"datum.value == 0 ? '0' : (datum.value < 0 ? '-' : '') + replace(format(abs(datum.value), '.1f'), '0.', '.')","tickSize":-6,"labelPadding":9,"labelFontSize":20,"labelColor":"#1a1a1a","labelFlush":false,"labelOverlap":false,"title":"horizontal eye position (deg)","titleFontSize":25.5,"titleFontWeight":"normal","titleColor":"#1a1a1a","titlePadding":0,"grid":false,"domainColor":"#aaaaaa","tickColor":"#aaaaaa"}},
 "y":{"field":"y","type":"quantitative","axis":{"orient":"left","values":[-2,0,2,4,6,8,10],"labelExpr":"(datum.value < 0 ? '-' : '') + format(abs(datum.value), 'd')","tickSize":-6,"labelPadding":11,"labelFontSize":21,"labelColor":"#1a1a1a","labelFlush":false,"labelOverlap":false,"title":"vertical eye position (deg)","titleFontSize":28.5,"titleFontWeight":"normal","titleColor":"#1a1a1a","titlePadding":6,"titleY":245,"grid":false,"domainColor":"#aaaaaa","tickColor":"#aaaaaa"}},
 "shape":{"field":"s","type":"nominal","scale":{"domain":["tu","td","tl","ci","sq","di"],"range":["triangle-up","triangle-down","triangle-left","circle","square","diamond"]},"legend":null},
 "fill":{"field":"c","type":"nominal","scale":{"domain":["G","O","B"],"range":["#bdbdbd","#ffffff","#111111"]},"legend":null},
 "stroke":{"field":"c","type":"nominal","scale":{"domain":["G","O","B"],"range":["#bdbdbd","#8c8c8c","#111111"]},"legend":null}}},
{"data":{"values":[{"x":0.2649,"y":8.616}]},"mark":{"type":"point","shape":"triangle-up","filled":true,"size":70,"angle":231,"opacity":1,"color":"#8a8a8a"},
 "encoding":{"x":{"field":"x","type":"quantitative","axis":null},"y":{"field":"y","type":"quantitative","axis":null}}},
{"data":{"values":[{"x":0.1254,"y":1.624}]},"mark":{"type":"point","shape":"triangle-up","filled":true,"size":70,"angle":315,"opacity":1,"color":"#111111"},
 "encoding":{"x":{"field":"x","type":"quantitative","axis":null},"y":{"field":"y","type":"quantitative","axis":null}}},
{"data":{"values":[{"x":-0.1557,"y":2.633}]},"mark":{"type":"point","shape":"triangle-up","filled":true,"size":70,"angle":36,"opacity":1,"color":"#555555"},
 "encoding":{"x":{"field":"x","type":"quantitative","axis":null},"y":{"field":"y","type":"quantitative","axis":null}}}
]
}
